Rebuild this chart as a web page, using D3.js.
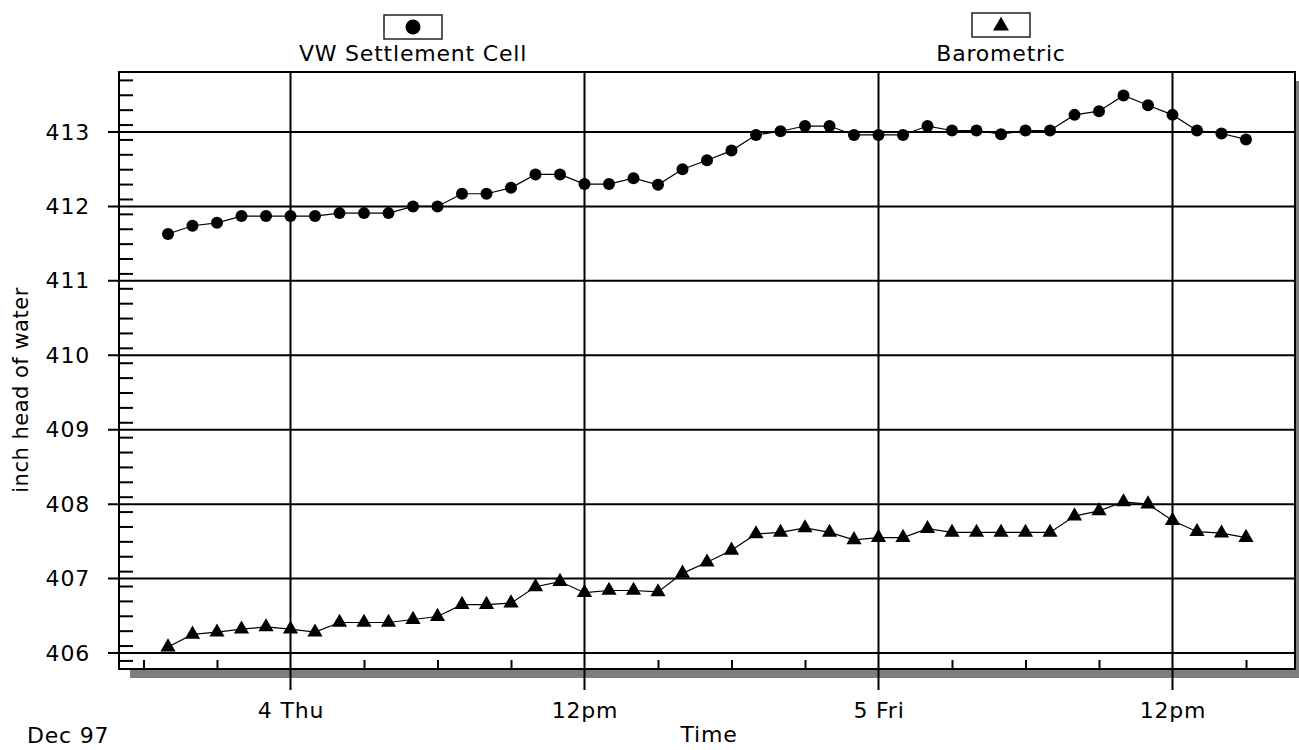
<!DOCTYPE html>
<html>
<head>
<meta charset="utf-8">
<script src="https://cdn.jsdelivr.net/npm/d3@7"></script>
<style>
  body { margin: 0; background: #fff; }
  text { font-family: "DejaVu Sans", sans-serif; fill: #000; }
</style>
</head>
<body>
<svg id="chart" width="1299" height="750"></svg>
<script>
// hourly readings, Dec 3 1997 19:00 -> Dec 5 1997 15:00
const startTime = new Date(1997, 11, 3, 19);
const settlement = [411.63, 411.74, 411.78, 411.87, 411.87, 411.87, 411.87, 411.91, 411.91, 411.91,
  412.00, 412.00, 412.17, 412.17, 412.25, 412.43, 412.43, 412.30, 412.30, 412.38,
  412.29, 412.50, 412.62, 412.75, 412.96, 413.01, 413.08, 413.08, 412.96, 412.96,
  412.96, 413.08, 413.02, 413.02, 412.97, 413.02, 413.02, 413.23, 413.28, 413.49,
  413.36, 413.23, 413.02, 412.98, 412.90];
const barometric = [406.08, 406.25, 406.28, 406.32, 406.35, 406.32, 406.28, 406.41, 406.41, 406.41,
  406.45, 406.49, 406.65, 406.65, 406.67, 406.89, 406.96, 406.81, 406.84, 406.84,
  406.82, 407.07, 407.22, 407.38, 407.60, 407.62, 407.68, 407.62, 407.52, 407.55,
  407.55, 407.67, 407.62, 407.62, 407.62, 407.62, 407.62, 407.84, 407.91, 408.03,
  408.00, 407.78, 407.63, 407.61, 407.55];
const yTicks = [406, 407, 408, 409, 410, 411, 412, 413];
const xTickTimes = [new Date(1997, 11, 4, 0), new Date(1997, 11, 4, 12), new Date(1997, 11, 5, 0), new Date(1997, 11, 5, 12)];
const xTickLabels = ['4 Thu', '12pm', '5 Fri', '12pm'];
const seriesNames = ['VW Settlement Cell', 'Barometric'];

const times = settlement.map((d, i) => d3.timeHour.offset(startTime, i));

const margin = { top: 72, left: 119 };
const width = 1176;
const height = 597;

const svg = d3.select('#chart');
svg.append('rect').attr('width', 1299).attr('height', 750).attr('fill', '#fff');

const x = d3.scaleTime()
  .domain([new Date(1997, 11, 3, 17), new Date(1997, 11, 5, 17)])
  .range([0, width]);

const y = d3.scaleLinear()
  .domain([405.785, 413.806])
  .range([height, 0]);

const chart = svg.append('g')
  .attr('transform', `translate(${margin.left}, ${margin.top})`);

// drop shadow + frame
chart.append('rect')
  .attr('x', 11).attr('y', 9)
  .attr('width', width).attr('height', height)
  .attr('fill', '#7d7d7d');
chart.append('rect')
  .attr('width', width).attr('height', height)
  .attr('fill', '#fff');

const font = g => g.selectAll('text')
  .style('font-size', '22px')
  .style('letter-spacing', '0.8px')
  .style('font-family', '"DejaVu Sans", sans-serif')
  .attr('fill', '#000');

// horizontal grid
chart.append('g')
  .selectAll('line')
  .data(yTicks)
  .enter()
  .append('line')
  .attr('x1', -11).attr('x2', width)
  .attr('y1', d => y(d)).attr('y2', d => y(d))
  .attr('stroke', '#000').attr('stroke-width', 2);

// vertical grid
chart.append('g')
  .selectAll('line')
  .data(xTickTimes)
  .enter()
  .append('line')
  .attr('x1', d => x(d)).attr('x2', d => x(d))
  .attr('y1', 0).attr('y2', height + 21)
  .attr('stroke', '#000').attr('stroke-width', 2);

// y minor ticks
const yMinor = d3.range(4059, 4139, 2).map(d => d / 10).filter(d => Math.abs(d - Math.round(d)) > 0.01);
chart.append('g')
  .call(d3.axisLeft(y).tickValues(yMinor).tickSize(-14).tickFormat(''))
  .call(g => g.select('.domain').remove())
  .call(g => g.selectAll('line').attr('stroke', '#000').attr('stroke-width', 2));

// y labels
chart.append('g')
  .call(d3.axisLeft(y).tickValues(yTicks).tickSize(0).tickPadding(29).tickFormat(d3.format('d')))
  .call(g => g.select('.domain').remove())
  .call(font);

// x minor ticks
const xMinor = d3.timeHour.every(3).range(new Date(1997, 11, 3, 18), new Date(1997, 11, 5, 17))
  .filter(t => t.getHours() % 12 !== 0);
chart.append('g')
  .attr('transform', `translate(0, ${height})`)
  .call(d3.axisBottom(x).tickValues(xMinor).tickSize(-9).tickFormat(''))
  .call(g => g.select('.domain').remove())
  .call(g => g.selectAll('line').attr('stroke', '#000').attr('stroke-width', 2));

// x labels
chart.append('g')
  .attr('transform', `translate(0, ${height})`)
  .call(d3.axisBottom(x).tickValues(xTickTimes).tickSize(21).tickPadding(12)
    .tickFormat((d, i) => xTickLabels[i]))
  .call(g => g.select('.domain').remove())
  .call(g => g.selectAll('line').remove())
  .call(font);

// frame border
chart.append('rect')
  .attr('width', width).attr('height', height)
  .attr('fill', 'none').attr('stroke', '#000').attr('stroke-width', 2);

// series
const line = d3.line()
  .x((d, i) => x(times[i]))
  .y(d => y(d));

[settlement, barometric].forEach(s => {
  chart.append('path')
    .datum(s)
    .attr('d', line)
    .attr('fill', 'none')
    .attr('stroke', '#000')
    .attr('stroke-width', 1.2);
});

chart.append('g')
  .selectAll('circle')
  .data(settlement)
  .enter()
  .append('circle')
  .attr('cx', (d, i) => x(times[i]))
  .attr('cy', d => y(d))
  .attr('r', 6)
  .attr('fill', '#000');

const tri = d3.symbol().type(d3.symbolTriangle).size(100);
chart.append('g')
  .selectAll('path')
  .data(barometric)
  .enter()
  .append('path')
  .attr('d', tri)
  .attr('transform', (d, i) => `translate(${x(times[i])}, ${y(d)})`)
  .attr('fill', '#000');

// legend
const legend = [
  { name: seriesNames[0], cx: 413, top: 15, marker: 'circle' },
  { name: seriesNames[1], cx: 1001, top: 13, marker: 'triangle' }
];
legend.forEach(l => {
  const g = svg.append('g').attr('transform', `translate(${l.cx}, 0)`);
  g.append('rect')
    .attr('x', -29).attr('y', l.top)
    .attr('width', 58).attr('height', 24)
    .attr('fill', '#fff').attr('stroke', '#222').attr('stroke-width', 1.5);
  if (l.marker === 'circle') {
    g.append('circle').attr('cx', 0).attr('cy', l.top + 12).attr('r', 7.5).attr('fill', '#000');
  } else {
    g.append('path')
      .attr('d', d3.symbol().type(d3.symbolTriangle).size(110))
      .attr('transform', `translate(0, ${l.top + 13})`)
      .attr('fill', '#000');
  }
  g.append('text')
    .attr('x', 0).attr('y', 61)
    .attr('text-anchor', 'middle')
    .style('font-size', '22px')
    .style('letter-spacing', '0.8px')
    .text(l.name);
});

// axis titles
svg.append('text')
  .attr('transform', 'translate(28, 390) rotate(-90)')
  .attr('text-anchor', 'middle')
  .style('font-size', '21px')
  .style('letter-spacing', '0.5px')
  .text('inch head of water');

svg.append('text')
  .attr('x', 709).attr('y', 742)
  .attr('text-anchor', 'middle')
  .style('font-size', '22px')
  .style('letter-spacing', '0.8px')
  .text('Time');

svg.append('text')
  .attr('x', 27).attr('y', 743)
  .style('font-size', '22px')
  .style('letter-spacing', '0.8px')
  .text('Dec 97');
</script>
</body>
</html>
